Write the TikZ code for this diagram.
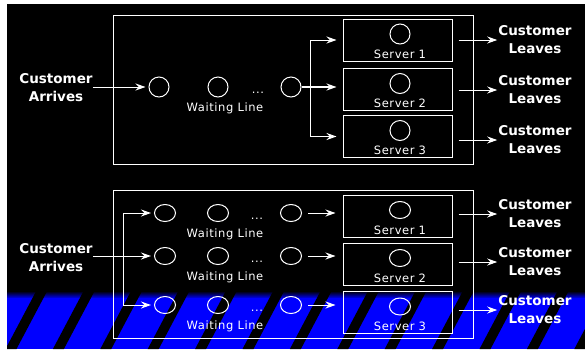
\documentclass[tikz,border=0pt]{standalone}
\usepackage{fontspec}
\usetikzlibrary{arrows.meta,shapes.geometric}
\newfontfamily\dvsans{DejaVu Sans}
\newfontfamily\dvlabel[LetterSpace=5]{DejaVu Sans}
\tikzset{
  cust/.style={font=\dvsans\bfseries\fontsize{13.5}{18}\selectfont,text=white,align=center,inner sep=0pt},
  lbl/.style={font=\dvlabel\fontsize{11.5}{13}\selectfont,text=white,inner sep=0pt},
  qcirc/.style={draw=white,circle,minimum size=20pt,inner sep=0pt,line width=1pt},
  qell/.style={draw=white,ellipse,minimum width=21pt,minimum height=17pt,inner sep=0pt,line width=1pt},
  srvbox/.style={draw=white,line width=1pt,minimum width=109pt,minimum height=42pt,inner sep=0pt},
  flow/.style={draw=white,line width=1pt,-{Stealth[length=10pt,width=7pt]}},
}
\begin{document}
\begin{tikzpicture}[x=1pt,y=-1pt]
\useasboundingbox (0,0) rectangle (585,349);
\fill[white] (0,0) rectangle (585,349);
\fill[black] (7,4) rectangle (585,349);
% Striped band at the bottom
\begin{scope}
\clip (7,291) rectangle (585,349);
\shade[top color=black,bottom color=blue] (7,291) rectangle (585,298.5);
\fill[blue] (7,298) rectangle (585,349);
\foreach \k in {-1,...,12} {
  \pgfmathsetmacro{\bx}{11+47.4*\k}
  \fill[black] (\bx-5.5,349) -- (\bx+5.5,349) -- (\bx+36.2,291) -- (\bx+25.2,291) -- cycle;
}
\end{scope}
% Upper system: one waiting line, three servers
\draw[white,line width=1pt] (113,15) rectangle (473,164);
\node[cust] (arrA) at (56,88) {Customer\\Arrives};
\foreach \i/\x in {1/159,2/218,3/291} \node[qcirc] (qA\i) at (\x,87) {};
\node[lbl] (dotsA) at (258,92.5) {...};
\node[lbl] (waitA) at (225,108) {Waiting Line};
\draw[flow,shorten >=3pt] (arrA.east |- qA1) -- (qA1.west);
\foreach \i/\y/\ly in {1/40/40,2/89.5/90,3/136.5/140} {
  \node[srvbox] (srvA\i) at (397.5,\y) {};
  \node[qcirc] (srvcA\i) at (400,\y-6) {};
  \node[lbl] (srvtA\i) at (400,\y+14) {Server \i};
  \node[cust] (leaveA\i) at (535,\ly) {Customer\\Leaves};
  \draw[flow,shorten <=6pt,shorten >=1pt] (srvA\i.east |- leaveA\i.west) -- (leaveA\i.west);
}
\coordinate (forkA) at (310,87);
\draw[flow,line width=2pt,shorten >=6pt] (qA3.east) -- (qA3.east -| srvA2.west);
\draw[flow,shorten >=6pt] (forkA) |- (srvA1.west);
\draw[flow,shorten >=6pt] (forkA) |- (srvA3.west);
% Lower system: three waiting lines, three servers
\draw[white,line width=1pt] (113,190) rectangle (473,338);
\node[cust] (arrB) at (56,257.5) {Customer\\Arrives};
\foreach \r/\y/\sy/\ly in {1/213/216/214,2/256/264/262,3/305/312.5/310} {
  \foreach \i/\x in {1/165,2/218,3/291} \node[qell] (qB\r\i) at (\x,\y) {};
  \node[lbl] (dotsB\r) at (257,\y+5.5) {...};
  \node[lbl] (waitB\r) at (225,\y+21.5) {Waiting Line};
  \node[srvbox] (srvB\r) at (397.5,\sy) {};
  \node[qell] (srvcB\r) at (400,\sy-6) {};
  \node[lbl] (srvtB\r) at (400,\sy+14) {Server \r};
  \node[cust] (leaveB\r) at (535,\ly) {Customer\\Leaves};
  \draw[flow,shorten <=6pt,shorten >=7pt] (qB\r3.east) -- (qB\r3.east -| srvB\r.west);
  \draw[flow,shorten <=6pt,shorten >=1pt] (srvB\r.east |- leaveB\r.west) -- (leaveB\r.west);
}
\coordinate (forkB) at (123,256);
\draw[flow,shorten >=3pt] (arrB.east |- qB21) -- (qB21.west);
\draw[flow,shorten >=3pt] (forkB) |- (qB11.west);
\draw[flow,shorten >=3pt] (forkB) |- (qB31.west);
\end{tikzpicture}
\end{document}
